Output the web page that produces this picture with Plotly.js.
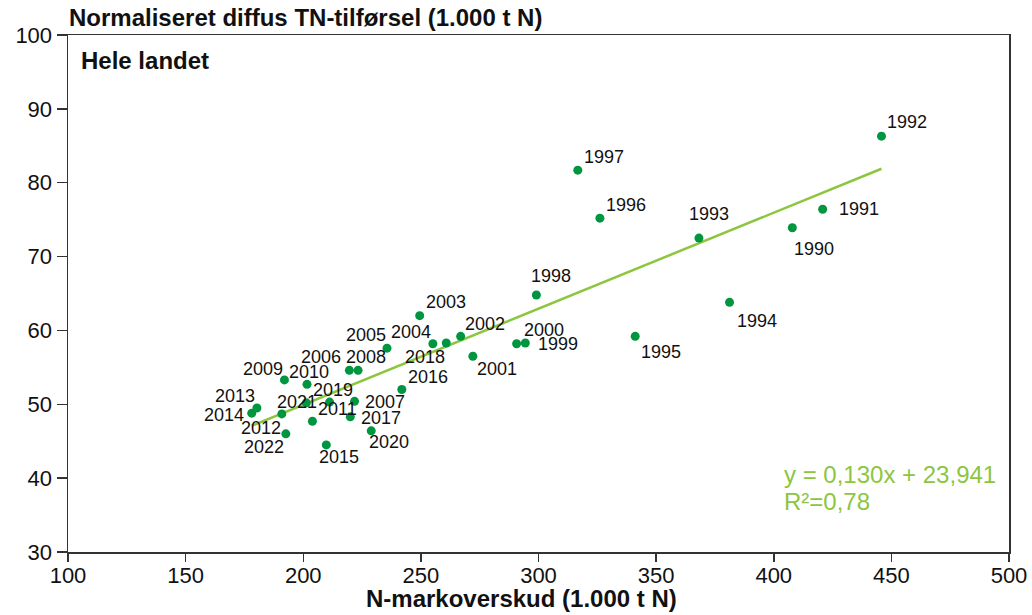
<!DOCTYPE html>
<html>
<head>
<meta charset="utf-8">
<script src="https://cdn.plot.ly/plotly-3.0.1.min.js"></script>
<style>html,body{margin:0;padding:0;background:#fff;}#chart{width:1032px;height:615px;}</style>
</head>
<body>
<div id="chart"></div>
<script>
// Data
const years = [1990,1991,1992,1993,1994,1995,1996,1997,1998,1999,2000,2001,2002,2003,2004,2005,2006,2007,2008,2009,2010,2011,2012,2013,2014,2015,2016,2017,2018,2019,2020,2021,2022];
const nSurplus = [407.9,420.8,445.8,368.2,381.2,341.1,326.1,316.7,299.1,294.4,290.7,272.1,266.9,249.5,255.1,235.6,219.6,221.8,223.3,192.0,201.6,203.9,190.9,180.3,178.1,209.8,241.9,220.0,260.8,211.2,228.9,201.3,192.6];
const tnLoad = [73.9,76.4,86.3,72.5,63.8,59.2,75.2,81.7,64.8,58.3,58.2,56.5,59.2,62.0,58.2,57.6,54.6,50.4,54.6,53.3,52.7,47.7,48.7,49.5,48.8,44.5,52.0,48.3,58.3,50.3,46.4,50.2,46.0];
const trendSlope = 0.130;
const trendIntercept = 23.941;
const eqText = "y = 0,130x + 23,941";
const r2Text = "R²=0,78";
const xTicks = [100,150,200,250,300,350,400,450,500];
const yTicks = [30,40,50,60,70,80,90,100];

// label placement (pixel offsets of each year label from its dot)
const labelOffsets = [[21.7,21.7],[36,0],[25.7,-14],[9.7,-24],[27,18.4],[25.7,15.7],[26.3,-13],[26.3,-13.3],[14.3,-19.3],[32.6,1],[27.7,-13.7],[24,13],[24.7,-12.4],[26.7,-13.3],[-21.6,-11.6],[-21.4,-12.7],[-28.7,-13],[30.4,0.7],[8,-13],[-21.3,-11.4],[2.3,-12.3],[25,-12.4],[-21,14.6],[-22.4,-12.3],[-27.4,2.3],[12.7,12],[26.4,-12.3],[30.7,1.6],[-21.7,14.4],[3,-11.7],[18,11],[-9,-1],[-21.7,13.4]];

const FONT = "Liberation Sans, Arial, sans-serif";
const xMin = Math.min(...nSurplus), xMax = Math.max(...nSurplus);

const traces = [
  {
    x: [xMin, xMax],
    y: [trendSlope*xMin + trendIntercept, trendSlope*xMax + trendIntercept],
    mode: 'lines', type: 'scatter',
    line: {color: '#8cc63f', width: 2.5},
    hoverinfo: 'skip'
  },
  {
    x: nSurplus, y: tnLoad, text: years.map(String),
    mode: 'markers', type: 'scatter',
    marker: {color: '#00963f', size: 9}
  }
];

const annotations = years.map((yr, i) => ({
  x: nSurplus[i], y: tnLoad[i], xref: 'x', yref: 'y',
  text: String(yr), showarrow: false,
  xanchor: 'center', yanchor: 'middle',
  xshift: labelOffsets[i][0], yshift: -labelOffsets[i][1],
  font: {family: FONT, size: 18, color: '#111'}
}));

annotations.push(
  {xref: 'paper', yref: 'paper', x: -0.001, y: 1, yshift: 18, xanchor: 'left', yanchor: 'middle', showarrow: false,
   text: '<b>Normaliseret diffus TN-tilførsel (1.000 t N)</b>', font: {family: FONT, size: 24, color: '#111'}},
  {xref: 'paper', yref: 'paper', x: 0.0115, y: 1, yshift: -25, xanchor: 'left', yanchor: 'middle', showarrow: false,
   text: '<b>Hele landet</b>', font: {family: FONT, size: 24, color: '#111'}},
  {xref: 'paper', yref: 'paper', x: (782-68)/941, y: 0, yshift: 78, xanchor: 'left', yanchor: 'middle', showarrow: false,
   text: eqText, font: {family: FONT, size: 24, color: '#8cc63f'}},
  {xref: 'paper', yref: 'paper', x: (782-68)/941, y: 0, yshift: 51, xanchor: 'left', yanchor: 'middle', showarrow: false,
   text: r2Text, font: {family: FONT, size: 24, color: '#8cc63f'}},
  {xref: 'paper', yref: 'paper', x: (521-68)/941, y: 0, yshift: -46, xanchor: 'center', yanchor: 'middle', showarrow: false,
   text: '<b>N-markoverskud (1.000 t N)</b>', font: {family: FONT, size: 24, color: '#111'}}
);

const layout = {
  width: 1032, height: 615,
  margin: {l: 68, r: 23, t: 35, b: 63, pad: 0},
  paper_bgcolor: '#fff', plot_bgcolor: '#fff',
  showlegend: false,
  font: {family: FONT, color: '#111'},
  xaxis: {
    range: [100, 500], tickvals: xTicks, ticktext: xTicks.map(String),
    showgrid: false, zeroline: false,
    showline: true, linecolor: '#333', linewidth: 1.5, mirror: true,
    ticks: 'outside', ticklen: 8, tickwidth: 1.5, tickcolor: '#333',
    ticklabelstandoff: -5,
    tickfont: {family: FONT, size: 22, color: '#111'}
  },
  yaxis: {
    range: [30, 100], tickvals: yTicks, ticktext: yTicks.map(String),
    showgrid: false, zeroline: false,
    showline: true, linecolor: '#333', linewidth: 1.5, mirror: true,
    ticks: 'outside', ticklen: 10, tickwidth: 1.5, tickcolor: '#333',
    tickfont: {family: FONT, size: 22, color: '#111'}
  },
  annotations: annotations
};

Plotly.newPlot('chart', traces, layout, {displayModeBar: false, staticPlot: true});
</script>
</body>
</html>
